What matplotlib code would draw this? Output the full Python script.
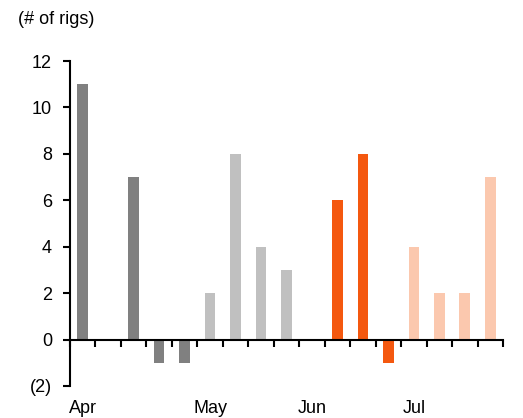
import matplotlib
matplotlib.use("Agg")
import matplotlib.pyplot as plt
from matplotlib.ticker import FuncFormatter
from matplotlib.transforms import blended_transform_factory

plt.rcParams['font.family'] = ['Liberation Sans', 'DejaVu Sans']

# weekly change in rig count
values = [11, 0, 7, -1, -1, 2, 8, 4, 3, 0, 6, 8, -1, 4, 2, 2, 7]
months = ['Apr', 'May', 'Jun', 'Jul']
month_start = [0, 5, 9, 13]
month_colors = ['#808080', '#C0C0C0', '#F4580F', '#FBC8AE']

colors = []
for i in range(len(values)):
    m = max(k for k, s in enumerate(month_start) if s <= i)
    colors.append(month_colors[m])

fig = plt.figure(figsize=(5.23, 4.18), dpi=100)
ax = fig.add_axes([70 / 523, 1 - 386 / 418, 433 / 523, 325 / 418])

x = list(range(len(values)))
ax.bar(x, values, width=0.42, color=colors, zorder=2)

ax.set_xlim(-0.5, len(values) - 0.5)
ax.set_ylim(-2, 12)
ax.set_yticks(range(-2, 13, 2))
ax.yaxis.set_major_formatter(FuncFormatter(lambda v, p: f"({abs(int(v))})" if v < 0 else f"{int(v)}"))

ax.spines['top'].set_visible(False)
ax.spines['right'].set_visible(False)
ax.spines['bottom'].set_position(('data', 0))
ax.spines['left'].set_linewidth(1.5)
ax.spines['bottom'].set_linewidth(1.5)

ax.set_xticks([i - 0.5 for i in range(len(values) + 1)])
ax.set_xticklabels([])
ax.tick_params(axis='x', direction='out', length=5, width=1.5)
ax.tick_params(axis='y', direction='out', length=5, width=1.5, labelsize=13, pad=8)

trans = blended_transform_factory(ax.transData, ax.transAxes)
for name, s in zip(months, month_start):
    ax.text(s, -0.068, name, transform=trans, ha='center', va='center', fontsize=13)

fig.text(18 / 523, 1 - 20 / 418, '(# of rigs)', ha='left', va='center', fontsize=13)

fig.savefig('out.png', dpi=100)
